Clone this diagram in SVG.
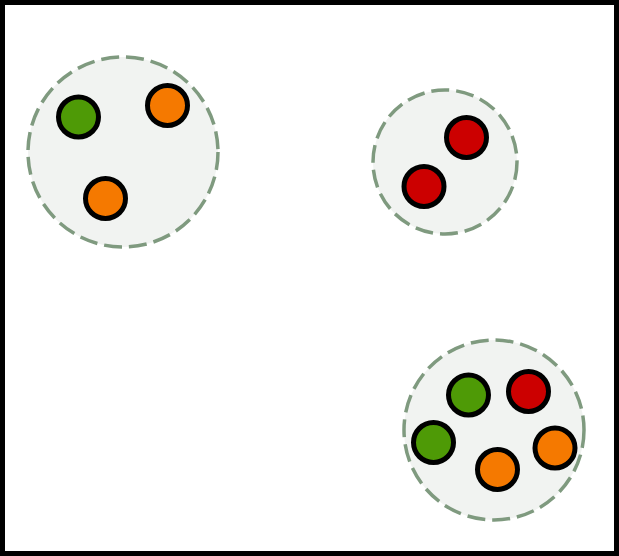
<svg xmlns="http://www.w3.org/2000/svg" width="619" height="556" viewBox="0 0 619 556">
<style>
.cluster{fill:#f1f3f1;stroke:#7f9a7f;stroke-width:3.5;stroke-dasharray:18,7}
.dot{stroke:#000;stroke-width:5}
.g{fill:#4e9a06}.o{fill:#f57900}.r{fill:#cc0000}
</style>
<rect x="0" y="0" width="619" height="556" fill="#fff"/>
<rect x="2.5" y="2.5" width="614" height="551" fill="none" stroke="#000" stroke-width="5"/>
<g id="cluster1">
<circle class="cluster" cx="123" cy="152" r="95"/>
<circle class="dot g" cx="78.5" cy="117" r="20"/>
<circle class="dot o" cx="167.5" cy="105.5" r="20"/>
<circle class="dot o" cx="105.5" cy="198.5" r="20"/>
</g>
<g id="cluster2">
<circle class="cluster" cx="445" cy="162" r="72"/>
<circle class="dot r" cx="466.5" cy="137.5" r="20"/>
<circle class="dot r" cx="424" cy="186.5" r="20"/>
</g>
<g id="cluster3">
<circle class="cluster" cx="494" cy="430" r="90"/>
<circle class="dot g" cx="468.5" cy="395" r="20"/>
<circle class="dot r" cx="528.5" cy="391.5" r="20"/>
<circle class="dot g" cx="433.5" cy="442.5" r="20"/>
<circle class="dot o" cx="497.5" cy="469.5" r="20"/>
<circle class="dot o" cx="555" cy="448" r="20"/>
</g>
<g id="connectors"></g>
</svg>
